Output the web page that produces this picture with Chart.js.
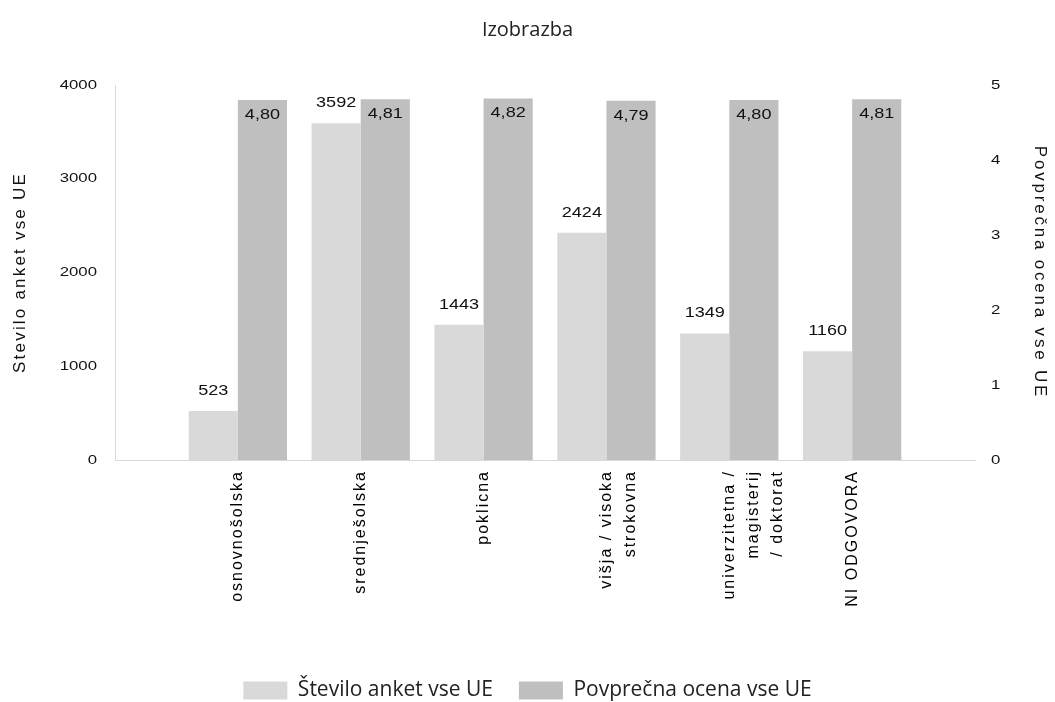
<!DOCTYPE html>
<html>
<head>
<meta charset="utf-8">
<script src="https://cdn.jsdelivr.net/npm/chart.js@4"></script>
<style>
  html, body { margin: 0; padding: 0; background: #fff; }
  #wrap { width: 1055px; height: 702px; }
</style>
</head>
<body>
<div id="wrap"><canvas id="izobrazbaChart"></canvas></div>
<script>
const categories = ['osnovnošolska', 'srednješolska', 'poklicna', ['višja / visoka', 'strokovna'], ['univerzitetna /', 'magisterij', '/ doktorat'], 'NI ODGOVORA'];
const steviloAnket = [523, 3592, 1443, 2424, 1349, 1160];
const povprecnaOcena = [4.80, 4.81, 4.82, 4.79, 4.80, 4.81];
const leftTicks = [0, 1000, 2000, 3000, 4000];
const rightTicks = [0, 1, 2, 3, 4, 5];

// empty slot on each side, bars sit on the inner slots
const labels = [''].concat(categories, ['']);
const padData = arr => [null].concat(arr, [null]);

const STRETCH = 1.29; // source texts are widened horizontally

Chart.defaults.font.family = '"Liberation Sans", Arial, sans-serif';
Chart.defaults.color = '#111';

// value labels: above light bars, inside top of dark bars
const valueLabels = {
    id: 'valueLabels',
    afterDatasetsDraw(chart) {
        const ctx = chart.ctx;
        const put = (txt, x, y) => {
            ctx.save();
            ctx.translate(x, y);
            ctx.scale(STRETCH, 1);
            ctx.fillText(txt, 0, 0);
            ctx.restore();
        };
        ctx.save();
        ctx.font = '14px "Liberation Sans", Arial, sans-serif';
        ctx.fillStyle = '#111';
        ctx.textAlign = 'center';
        ctx.textBaseline = 'middle';
        chart.getDatasetMeta(0).data.forEach((bar, i) => {
            const v = chart.data.datasets[0].data[i];
            if (v == null) return;
            put(String(v), bar.x, bar.y - 20);
        });
        chart.getDatasetMeta(1).data.forEach((bar, i) => {
            const v = chart.data.datasets[1].data[i];
            if (v == null) return;
            put(v.toFixed(2).replace('.', ','), bar.x, bar.y + 15);
        });
        ctx.restore();
    }
};

const chart = new Chart(document.getElementById('izobrazbaChart'), {
    type: 'bar',
    data: {
        labels: labels,
        datasets: [{
            label: 'Število anket vse UE',
            data: padData(steviloAnket),
            backgroundColor: '#d9d9d9',
            yAxisID: 'y'
        }, {
            label: 'Povprečna ocena vse UE',
            data: padData(povprecnaOcena),
            backgroundColor: '#bfbfbf',
            yAxisID: 'y1'
        }]
    },
    options: {
        responsive: true,
        maintainAspectRatio: false,
        animation: false,
        layout: { padding: 0 },
        datasets: {
            bar: { categoryPercentage: 0.8, barPercentage: 1.0 }
        },
        plugins: {
            title: {
                display: true,
                text: 'Izobrazba',
                color: '#222',
                font: { family: '"Open Sans", sans-serif', size: 20, weight: 'normal' },
                padding: { top: 18, bottom: 43 }
            },
            legend: {
                position: 'bottom',
                maxHeight: 48,
                labels: {
                    boxWidth: 44,
                    boxHeight: 18,
                    padding: 26,
                    color: '#222',
                    font: { family: '"Open Sans", sans-serif', size: 21 }
                }
            },
            tooltip: { enabled: false }
        },
        scales: {
            x: {
                offset: false,
                grid: { display: false, drawTicks: false },
                border: { display: true, color: '#d9d9d9' },
                ticks: {
                    autoSkip: false,
                    minRotation: 90,
                    maxRotation: 90,
                    padding: 10,
                    color: '#000',
                    font: { size: 16, lineHeight: 1.5 }
                },
                afterFit: scale => { scale.height = 194; }
            },
            y: {
                position: 'left',
                min: 0,
                max: 4000,
                grid: { display: false, drawTicks: false },
                border: { display: true, color: '#d9d9d9' },
                afterBuildTicks: scale => { scale.ticks = leftTicks.map(v => ({ value: v })); },
                ticks: { padding: 18, font: { size: 13 }, callback: v => String(v) },
                title: {
                    display: true,
                    text: 'Stevilo anket vse UE',
                    font: { size: 17 },
                    padding: { top: 10, bottom: 0 }
                },
                afterFit: scale => { scale.width = 115; }
            },
            y1: {
                position: 'right',
                min: 0,
                max: 5,
                grid: { display: false, drawTicks: false },
                border: { display: false },
                afterBuildTicks: scale => { scale.ticks = rightTicks.map(v => ({ value: v })); },
                ticks: { padding: 16, font: { size: 13 }, callback: v => String(v) },
                title: {
                    display: true,
                    text: 'Povprečna ocena vse UE',
                    font: { size: 17 },
                    padding: { top: 5, bottom: 0 }
                },
                afterFit: scale => { scale.width = 80; }
            }
        }
    },
    plugins: [valueLabels]
});

// wrap a scale's drawing step with extra canvas state
function patchDraw(scale, method, before) {
    const orig = scale[method];
    scale[method] = function () {
        const ctx = this.ctx;
        ctx.save();
        before(ctx, this);
        orig.apply(this, arguments);
        ctx.restore();
    };
}
const stretchAt = (ctx, ax) => {
    ctx.translate(ax, 0);
    ctx.scale(STRETCH, 1);
    ctx.translate(-ax, 0);
};
patchDraw(chart.scales.x, 'drawLabels', ctx => { ctx.letterSpacing = '2px'; });
patchDraw(chart.scales.y, 'drawLabels', (ctx, s) => stretchAt(ctx, s.right - 18));
patchDraw(chart.scales.y1, 'drawLabels', (ctx, s) => stretchAt(ctx, s.left + 16));
patchDraw(chart.scales.y, 'drawTitle', ctx => { ctx.letterSpacing = '2.2px'; });
patchDraw(chart.scales.y1, 'drawTitle', ctx => { ctx.letterSpacing = '2.8px'; });
chart.draw();
</script>
</body>
</html>
